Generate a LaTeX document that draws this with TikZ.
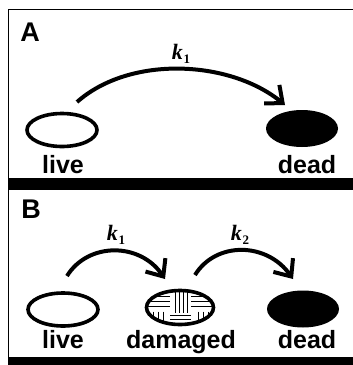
\documentclass[tikz,border=0pt]{standalone}
\usepackage{fontspec}
\setmainfont{Liberation Sans}
\newfontfamily\kfont{Liberation Serif}
\usetikzlibrary{arrows.meta,shapes.geometric}
\tikzset{
  cell/.style={ellipse, draw, line width=3.6pt, inner sep=0pt, minimum width=70pt, minimum height=33pt},
  deadcell/.style={ellipse, fill, inner sep=0pt, minimum width=72pt, minimum height=37pt},
  lbl/.style={font=\fontsize{25}{27}\selectfont\bfseries, inner sep=0pt, anchor=base},
  panel/.style={font=\fontsize{27}{28}\selectfont\bfseries, inner sep=0pt},
  rate/.style={font=\kfont\fontsize{22}{23}\selectfont, inner sep=0pt},
  trans/.style={line width=4pt, -{Straight Barb[length=14pt,width=24pt,line width=4pt]}},
  hatch/.style={line width=1pt},
}
\newcommand{\krate}[1]{\textbf{\textit{k}}\kern0.8pt\raisebox{-0.35ex}{\fontsize{13}{13}\selectfont\textbf{#1}}}
\begin{document}
\begin{tikzpicture}[x=1pt,y=-1pt]
  \useasboundingbox (0,0) rectangle (353,365);
  % frames and dividing bars
  \draw[line width=1pt] (353,9) -- (8,9) -- (8,357);
  \fill (8,178) rectangle (353,190);
  \fill (8,357) rectangle (353,365);

  % ---------- panel A ----------
  \node[panel] (pA) at (30,32) {A};
  \node[cell] (liveA) at (62,130) {};
  \node[deadcell] (deadA) at (302,128.5) {};
  \node[lbl] (tliveA) at (63,173) {live};
  \node[lbl] (tdeadA) at (307,173) {dead};
  \coordinate (sA) at (77,102);
  \coordinate (eA) at (285,105);
  \draw[trans] (sA) .. controls (130,55) and (230,60) .. (eA);
  \node[rate] (k1A) at (181,54) {\krate{1}};

  % ---------- panel B ----------
  \node[panel] (pB) at (31,209) {B};
  \node[cell] (liveB) at (63,309.5) {};
  \node[deadcell] (deadB) at (303,309) {};
  \node[ellipse, minimum width=67pt, minimum height=34pt, inner sep=0pt] (dmg) at (180,307.5) {};
  \begin{scope}
    \clip (dmg.center) ellipse [x radius=32, y radius=16];
    % central vertical strands
    \foreach \d in {-5,-1,3,7}
      \draw[hatch] ([xshift=\d]dmg.center) ++(0,-20) -- ++(0,25);
    % upper left and upper right horizontal strands
    \foreach \d in {-11,-6,-1}{
      \draw[hatch] ([yshift=-\d]dmg.center) ++(-40,0) -- ++(30,0);
      \draw[hatch] ([yshift=-\d]dmg.center) ++(11,0) -- ++(30,0);
    }
    % lower left and lower right vertical strands
    \foreach \d in {-27,-22,-17}{
      \draw[hatch] ([xshift=\d]dmg.center) ++(0,4) -- ++(0,20);
      \draw[hatch] ([xshift=-\d]dmg.center) ++(1,4) -- ++(0,20);
    }
    % lower central horizontal strands
    \foreach \d in {8,12}
      \draw[hatch] ([yshift=-\d]dmg.center) ++(-10,0) -- ++(21,0);
  \end{scope}
  \draw[line width=3.6pt] (dmg.center) ellipse [x radius=33.5, y radius=17];
  \node[lbl] (tliveB) at (63,348) {live};
  \node[lbl] (tdmg) at (181,348) {damaged};
  \node[lbl] (tdeadB) at (307,348) {dead};
  \coordinate (s1) at (67,276);
  \coordinate (e1) at (165,279);
  \coordinate (s2) at (195,275);
  \coordinate (e2) at (293,279);
  \draw[trans] (s1) .. controls (88,242) and (140,242) .. (e1);
  \draw[trans] (s2) .. controls (216,241) and (267,242) .. (e2);
  \node[rate] (k1B) at (116,235) {\krate{1}};
  \node[rate] (k2B) at (240,235) {\krate{2}};
\end{tikzpicture}
\end{document}
